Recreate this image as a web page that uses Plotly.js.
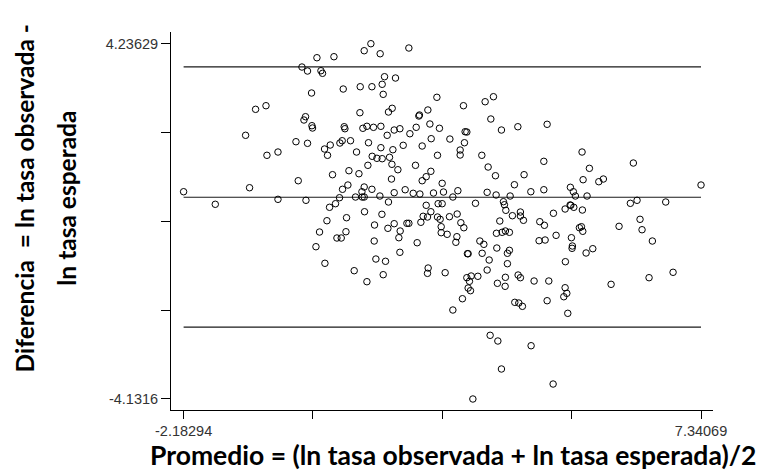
<!DOCTYPE html>
<html>
<head>
<meta charset="utf-8">
<script src="https://cdn.plot.ly/plotly-3.0.1.min.js"></script>
<style>
  html, body { margin: 0; padding: 0; background: #fff; }
  #chart { width: 779px; height: 475px; }
</style>
</head>
<body>
<div id="chart"></div>
<script>
// Bland-Altman: mean of the two log rates (x) vs. their difference (y)
const promedio = [
  -2.183, -1.600, -0.969, -0.446, 0.069, -1.042, -0.858, -0.667, -0.649, -0.446,
  -0.073, -0.115, 0.098, -0.005, 0.098, 0.271, 0.584, 0.345, 0.374, 0.172,
  0.032, 0.061, 0.179, 0.190, 0.755, 1.068, 1.283, 1.472, 1.491, 1.515,
  1.717, 1.141, 1.264, 1.435, 1.963, 2.479, 1.062, 1.588, 1.656, 2.147,
  2.158, 2.313, 0.773, 0.786, 1.117, 1.191, 1.312, 1.448, 1.564, 1.693,
  1.798, 1.982, 2.098, 2.350, 2.526, 2.718, 2.374, 2.208, 2.490, 1.859,
  1.669, 1.448, 1.220, 0.889, 0.736, 0.694, 0.516, 0.411, 0.466, 1.000,
  1.288, 1.375, 1.472, 1.607, 1.651, 1.761, 2.085, 1.209, 1.044, 0.860,
  0.558, 1.643, 2.368, 2.282, 2.208, 2.576, 2.600, 0.841, 0.742, 1.141,
  1.283, 1.099, 0.981, 1.104, 1.141, 0.687, 1.430, 1.693, 1.895, 2.043,
  2.166, 2.416, 1.588, 2.282, 2.502, 2.576, 0.613, 0.503,
  2.968, 3.367, 3.520, 3.472, 3.667, 3.969, 4.508, 2.999, 3.030, 2.986,
  2.907, 2.907, 3.306, 3.422, 3.557, 4.084, 3.906, 4.447, 5.151, 5.286,
  5.170, 5.459, 5.543, 6.095, 7.34069, 2.865, 2.773, 3.404, 3.569, 3.827,
  4.208, 4.447, 4.936, 4.991, 5.028, 5.243, 3.189, 3.704, 3.722, 6.040,
  6.163, 6.691,
  3.748, 3.869, 4.016, 4.016, 4.072, 3.637, 4.624, 4.839, 4.931, 4.944,
  4.999, 5.157, 6.218, 5.832, 6.255, 6.445, 6.826, 6.384, 5.685, 2.710,
  2.852, 2.920, 2.975, 2.539, 2.558, 2.558, 2.668, 2.847, 2.828, 3.270,
  3.343, 3.041, 3.054, 3.312, 3.441, 3.582, 3.575, 3.680, 3.740, 3.814,
  3.777, 3.814, 3.777, 4.373, 4.458, 4.360, 4.471, 4.673, 4.955, 4.973,
  4.967, 5.102, 5.139, 5.164, 5.225, 5.348, 4.844, 3.404, 2.631, 3.030,
  3.110, 3.078, 3.233, 3.054, 3.097, 2.949, 2.773, 3.593, 3.740, 3.735,
  3.974, 4.016, 4.268, 4.539, 3.913, 3.987, 4.053, 4.508, 4.839, 4.870,
  4.815, 4.888, 3.459, 3.601, 4.213, 3.667, 4.618, 3.141,
  1.147, 0.816, 0.455, 0.319, 0.639, 0.718, 0.805, 0.253, 0.418, 0.957,
  1.191, 1.331, 1.467, 1.577, 1.693, 1.803, 1.779, 1.927, 1.963, 2.184,
  2.226, 2.306, 2.368, 2.490, 1.325, 1.356, 1.533, 1.491, 1.798, 2.116,
  2.318, 2.306
];

const diferencia = [
  0.750, 0.454, 0.844, 0.571, 0.548, 2.079, 2.691, 2.776, 1.608, 1.685,
  1.009, 1.928, 1.890, 3.687, 3.593, 3.906, 3.930, 3.600, 3.539, 3.075,
  2.439, 2.517, 2.305, 2.251, 3.169, 3.223, 3.223, 3.280, 3.044, 3.459,
  3.428, 4.071, 4.23629, 4.000, 4.135, 2.974, 2.611, 2.627, 2.715, 2.533,
  2.557, 2.675, 2.281, 2.234, 2.244, 2.291, 2.267, 2.291, 2.079, 2.203,
  2.234, 2.116, 2.267, 2.345, 2.244, 1.991, 1.999, 1.827, 1.608, 1.843,
  1.739, 1.787, 1.904, 1.951, 1.951, 1.897, 1.850, 1.756, 1.608, 1.685,
  1.584, 1.537, 1.528, 1.561, 1.396, 1.268, 1.372, 1.372, 1.174, 1.245,
  1.151, 1.049, 1.231, 1.104, 1.009, 0.948, 0.743, 0.908, 0.807, 0.861,
  0.807, 0.750, 0.625, 0.625, 0.625, 0.609, 0.649, 0.727, 0.797, 0.713,
  0.696, 0.720, 0.508, 0.430, 0.468, 0.468, 0.468, 0.383,
  2.776, 2.870, 2.988, 2.463, 2.203, 2.281, 2.338, 2.163, 2.156, 1.904,
  1.732, 1.615, 1.608, 1.332, 1.127, 1.151, 0.915, 1.466, 1.685, 1.301,
  1.033, 0.986, 1.049, 1.426, 0.908, 0.774, 0.625, 0.736, 0.673, 0.649,
  0.750, 0.797, 0.854, 0.750, 0.649, 0.649, 0.477, 0.515, 0.444, 0.477,
  0.548, 0.508,
  0.312, 0.185, 0.272, 0.178, 0.077, 0.060, 0.242, 0.343, 0.437, 0.430,
  0.383, 0.319, 0.100, -0.065, -0.145, -0.411, -1.148, -1.275, -1.431, 0.162,
  0.225, 0.020, -0.098, 0.100, -0.074, -0.215, -0.253, -0.309, -0.441, -0.411,
  -0.489, -0.710, -0.710, -0.700, -0.858, -0.576, -0.229, -0.206, -0.175, -0.206,
  -0.700, -0.630, -0.945, 0.044, -0.041, -0.404, -0.387, -0.277, -0.333, -0.528,
  -0.583, -0.098, -0.074, -0.182, -0.693, -0.592, -0.898, -1.094, -1.157, -1.275,
  -1.235, -1.360, -1.242, -1.518, -1.581, -1.770, -2.036, -1.407, -1.266, -1.478,
  -1.212, -1.275, -1.353, -1.353, -1.855, -1.871, -1.949, -1.817, -1.511, -1.643,
  -1.723, -2.114, -2.632, -2.766, -2.877, -3.425, -3.779, -4.1316,
  0.279, 0.138, 0.067, -0.199, -0.340, -0.340, -0.192, -0.545, -0.936, -1.110,
  -1.369, -0.034, 0.218, -0.112, -0.003, -0.175, -0.333, 0.006, 0.006, 0.030,
  0.171, 0.154, 0.279, 0.154, -0.411, -0.835, -0.889, -1.204, -0.677, -0.451,
  -1.047, -1.172
];

// Mean difference and 95% limits of agreement
const meanDiff = 0.62;
const upperLimit = 3.69;
const lowerLimit = -2.44;
const xExtent = [-2.18294, 7.34069];

// Axis ticks: only the extremes carry labels
const xTickVals = [-2.18294, 0.19797, 2.57888, 4.95979, 7.34069];
const xTickText = ["-2.18294", "", "", "", "7.34069"];
const yTickVals = [-4.1316, -2.03963, 0.05234, 2.14432, 4.23629];
const yTickText = ["-4.1316", "", "", "", "4.23629"];

const refLine = (y) => ({
  x: xExtent,
  y: [y, y],
  mode: "lines",
  line: { color: "#1a1a1a", width: 1.2 },
  hoverinfo: "skip",
  showlegend: false
});

const traces = [
  refLine(upperLimit),
  refLine(meanDiff),
  refLine(lowerLimit),
  {
    x: promedio,
    y: diferencia,
    mode: "markers",
    type: "scatter",
    marker: {
      symbol: "circle-open",
      size: 6.5,
      color: "#000",
      line: { width: 1, color: "#000" }
    },
    showlegend: false
  }
];

const tickFont = { family: "Liberation Sans, Arial, sans-serif", size: 14.5, color: "#333" };
const xTitleFont = { family: "Lato, Open Sans, sans-serif", size: 26.5, color: "#000", weight: "bold" };
const yTitleFont = { family: "Lato, Open Sans, sans-serif", size: 24.5, color: "#000", weight: "bold" };

const layout = {
  width: 779,
  height: 475,
  margin: { l: 171, r: 66, t: 32, b: 65 },
  paper_bgcolor: "#fff",
  plot_bgcolor: "#fff",
  showlegend: false,
  xaxis: {
    range: [-2.415, 7.561],
    showgrid: false,
    zeroline: false,
    showline: true,
    linecolor: "#000",
    linewidth: 1,
    ticks: "outside",
    ticklen: 8,
    tickwidth: 1,
    tickcolor: "#000",
    tickvals: xTickVals,
    ticktext: xTickText,
    tickfont: tickFont
  },
  yaxis: {
    range: [-4.391, 4.512],
    showgrid: false,
    zeroline: false,
    showline: true,
    linecolor: "#000",
    linewidth: 1,
    ticks: "outside",
    ticklen: 9,
    tickwidth: 1,
    tickcolor: "#000",
    tickvals: yTickVals,
    ticktext: yTickText,
    tickfont: tickFont
  },
  annotations: [
    {
      text: "<b>Promedio = (ln tasa observada + ln tasa esperada)/2</b>",
      xref: "paper", yref: "paper",
      x: 0.52, y: -0.119,
      xanchor: "center", yanchor: "middle",
      showarrow: false,
      font: xTitleFont
    },
    {
      text: "<b>Diferencia  = ln tasa observada -</b>",
      xref: "paper", yref: "paper",
      x: -0.271, y: 0.56,
      xanchor: "center", yanchor: "middle",
      textangle: -90,
      showarrow: false,
      font: yTitleFont
    },
    {
      text: "<b>ln tasa esperada</b>",
      xref: "paper", yref: "paper",
      x: -0.193, y: 0.56,
      xanchor: "center", yanchor: "middle",
      textangle: -90,
      showarrow: false,
      font: yTitleFont
    }
  ]
};

Plotly.newPlot("chart", traces, layout, { staticPlot: true, displayModeBar: false });
</script>
</body>
</html>
